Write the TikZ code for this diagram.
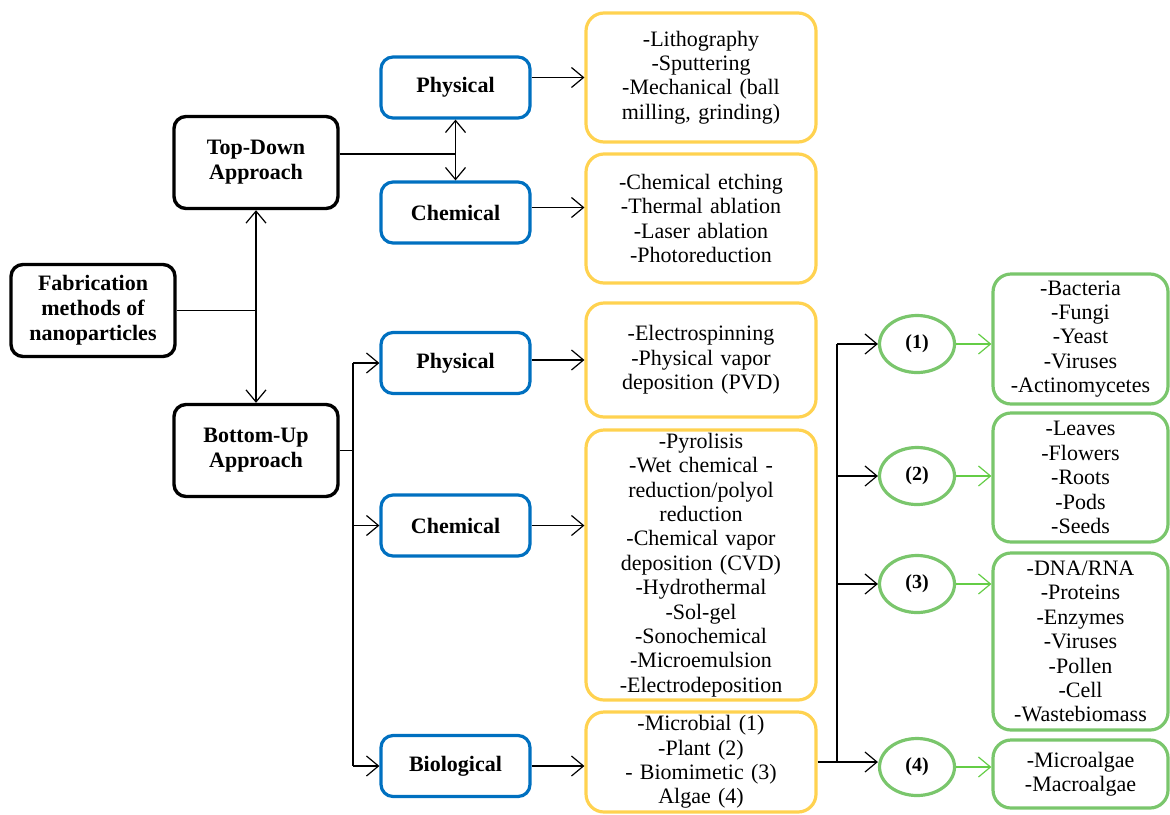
\documentclass[tikz,border=0pt]{standalone}
\usepackage{fontspec}
\setmainfont{Liberation Serif}
\usepackage{tikz}
\usetikzlibrary{arrows.meta,positioning,shapes.geometric,calc}
\definecolor{FabBlue}{RGB}{0,112,192}
\definecolor{FabYellow}{RGB}{255,210,80}
\definecolor{FabGreen}{RGB}{122,198,108}
\definecolor{FabArrow}{RGB}{100,205,70}

\begin{document}
\begin{tikzpicture}[x=0.5pt,y=-0.5pt,
  font=\fontsize{11}{12.2}\selectfont,
  main/.style={draw=black,line width=1.7pt,rounded corners=6pt,align=center,
    font=\fontsize{11}{12.5}\selectfont\bfseries,minimum width=82pt,minimum height=46pt},
  kind/.style={draw=FabBlue,line width=1.6pt,rounded corners=6pt,
    font=\fontsize{11}{12.5}\selectfont\bfseries,minimum width=74.5pt,minimum height=30.5pt},
  list/.style={draw=FabYellow,line width=1.6pt,rounded corners=9pt,align=center,
    text width=110pt,minimum width=115pt,inner sep=1pt},
  num/.style={draw=FabGreen,line width=1.6pt,ellipse,font=\bfseries,
    minimum width=37.5pt,minimum height=28.5pt,inner sep=0pt},
  src/.style={draw=FabGreen,line width=1.6pt,rounded corners=9pt,align=center,
    text width=84pt,minimum width=87.5pt,inner sep=1pt},
  barb/.tip={Straight Barb[length=6pt,width=10pt]},
  arr/.style={-barb,line width=0.6pt},
  darr/.style={barb-barb,line width=0.6pt},
  garr/.style={-barb,line width=0.6pt,draw=FabArrow}]
\useasboundingbox (0,0) rectangle (1170,814);

% left column
\node[main] (fab) at (93,310.5) {Fabrication\\methods of\\nanoparticles};
\node[main] (td) at (256,162.5) {Top-Down\\Approach};
\node[main] (bu) at (256,450.5) {Bottom-Up\\Approach};

% physical / chemical / biological
\node[kind] (tphys) at (455.5,87.5) {Physical};
\node[kind] (tchem) at (455.5,212.5) {Chemical};
\node[kind] (bphys) at (455.5,363) {Physical};
\node[kind] (bchem) at (455.5,525.5) {Chemical};
\node[kind] (bbio) at (455.5,766) {Biological};

% method lists
\node[list,minimum height=64.5pt] (ltphys) at (701,77.5)
  {-Lithography\\-Sputtering\\-Mechanical (ball milling, grinding)};
\node[list,minimum height=64.5pt] (ltchem) at (701,218.5)
  {-Chemical etching\\-Thermal ablation\\-Laser ablation\\-Photoreduction};
\node[list,minimum height=57pt] (lbphys) at (701,360)
  {-Electrospinning\\-Physical vapor deposition (PVD)};
\node[list,minimum height=135pt] (lbchem) at (701,565)
  {-Pyrolisis\\-Wet chemical -\\reduction/polyol\\reduction\\-Chemical vapor\\deposition (CVD)\\-Hydrothermal\\-Sol-gel\\-Sonochemical\\-Microemulsion\\-Electrodeposition};
\node[list,minimum height=50pt] (lbbio) at (701,762)
  {-Microbial (1)\\-Plant (2)\\- Biomimetic (3)\\Algae (4)};

% biological sources
\node[num] (c1) at (917,344) {(1)};
\node[num] (c2) at (917,476) {(2)};
\node[num] (c3) at (917,584) {(3)};
\node[num] (c4) at (917,767) {(4)};
\node[src,minimum height=65pt] (g1) at (1080.5,339)
  {-Bacteria\\-Fungi\\-Yeast\\-Viruses\\-Actinomycetes};
\node[src,minimum height=64.5pt] (g2) at (1080.5,477.5)
  {-Leaves\\-Flowers\\-Roots\\-Pods\\-Seeds};
\node[src,minimum height=88.5pt] (g3) at (1080.5,641.5)
  {-DNA/RNA\\-Proteins\\-Enzymes\\-Viruses\\-Pollen\\-Cell\\-Wastebiomass};
\node[src,minimum height=34pt] (g4) at (1080.5,774)
  {-Microalgae\\-Macroalgae};

\coordinate (tbus) at (455.5,154);
\coordinate (bbus) at (353,0);
\coordinate (rbus) at (837,0);

% connectors
\draw[line width=0.6pt] (fab.east) -- (fab.east -| td.south);
\draw[darr] (td.south) -- (bu.north);
\draw[line width=0.6pt] (tbus -| td.east) -- (tbus);
\draw[darr] (tphys.south) -- (tchem.north);
\draw[line width=0.6pt] (bu.east) -- (bu.east -| bbus);
\draw[line width=0.6pt] (bphys.west -| bbus) -- (bbio.west -| bbus);
\foreach \n in {bphys,bchem,bbio}
  \draw[arr] (\n.west -| bbus) -- (\n.west);
\draw[arr] (ltphys.west -| tphys.east) -- (ltphys.west);
\draw[arr] ($(tchem.east)+(0,-5)$) -- ($(tchem.east -| ltchem.west)+(0,-5)$);
\draw[arr] (lbphys.west -| bphys.east) -- (lbphys.west);
\draw[arr] (bchem.east) -- (bchem.east -| lbchem.west);
\draw[arr] (bbio.east) -- (bbio.east -| lbbio.west);
\draw[line width=0.6pt] (lbbio.east) -- (lbbio.east -| rbus);
\draw[line width=0.6pt] (c1.west -| rbus) -- (lbbio.east -| rbus);
\foreach \n in {c1,c2,c3}
  \draw[arr] (\n.west -| rbus) -- (\n.west);
\draw[arr] (lbbio.east -| rbus) -- (lbbio.east -| c4.west);
\foreach \a/\b in {c1/g1,c2/g2,c3/g3,c4/g4}
  \draw[garr] (\a.east) -- (\a.east -| \b.west);
\end{tikzpicture}
\end{document}
